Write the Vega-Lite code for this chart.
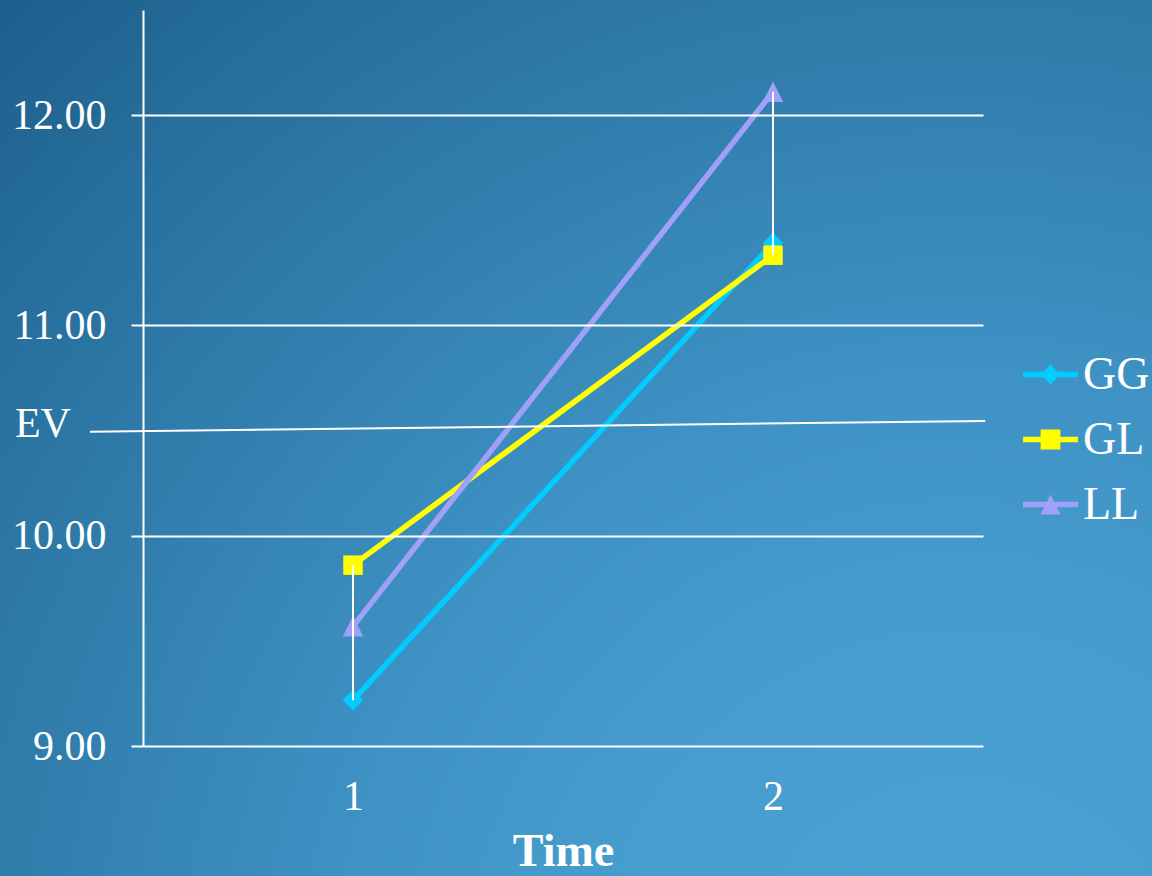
{
  "$schema": "https://vega.github.io/schema/vega-lite/v6.json",
  "width": 840,
  "height": 736,
  "autosize": "none",
  "padding": {"left": 143, "top": 10, "right": 169, "bottom": 130},
  "background": "#2a74a4",
  "config": {
    "view": {"stroke": null},
    "font": "Liberation Serif"
  },
  "datasets": {
    "series": [
      {"time": 1, "group": "GG", "value": 9.217},
      {"time": 2, "group": "GG", "value": 11.392},
      {"time": 1, "group": "GL", "value": 9.86},
      {"time": 2, "group": "GL", "value": 11.334},
      {"time": 1, "group": "LL", "value": 9.569},
      {"time": 2, "group": "LL", "value": 12.111}
    ],
    "ev": [
      {"time": 0.374, "value": 10.494},
      {"time": 2.505, "value": 10.546}
    ]
  },
  "layer": [
    {
      "data": {"values": [{}]},
      "mark": {
        "type": "rect",
        "clip": false,
        "fill": {
          "gradient": "radial",
          "x1": 0.694, "y1": 0.5, "r1": 0,
          "x2": 0.694, "y2": 0.5, "r2": 0.9,
          "stops": [
            {"offset": 0, "color": "#4aa2d4"},
            {"offset": 0.22, "color": "#469ccd"},
            {"offset": 0.35, "color": "#3e92c4"},
            {"offset": 0.65, "color": "#276f9c"},
            {"offset": 0.77, "color": "#1d5f8c"},
            {"offset": 0.95, "color": "#1b5c89"},
            {"offset": 1, "color": "#1a5a87"}
          ]
        }
      },
      "encoding": {
        "x": {"datum": 0.159, "type": "quantitative"},
        "x2": {"datum": 2.905},
        "y": {"datum": 12.55, "type": "quantitative"},
        "y2": {"datum": 3.03}
      }
    },
    {
      "data": {"name": "series"},
      "mark": {"type": "line", "strokeWidth": 5.5},
      "encoding": {
        "x": {
          "field": "time",
          "type": "quantitative",
          "scale": {"domain": [0.5, 2.5], "nice": false, "zero": false},
          "axis": {
            "zindex": 1,
            "values": [1, 2],
            "format": "d",
            "grid": false,
            "domain": false,
            "ticks": false,
            "tickSize": 0,
            "labelColor": "white",
            "labelFontSize": 42,
            "labelPadding": 30,
            "title": "Time",
            "titleFontSize": 46,
            "titleFontWeight": "bold",
            "titleColor": "white",
            "titlePadding": 12
          }
        },
        "y": {
          "field": "value",
          "type": "quantitative",
          "scale": {"domain": [9, 12.5], "nice": false, "zero": false},
          "axis": {
            "zindex": 1,
            "values": [9, 10, 11, 12],
            "format": ".2f",
            "grid": true,
            "gridColor": "white",
            "gridWidth": 2,
            "gridOpacity": 1,
            "domainColor": "white",
            "domainWidth": 2,
            "tickColor": "white",
            "tickWidth": 2,
            "tickSize": 12,
            "labelColor": "white",
            "labelFontSize": 42,
            "labelPadding": 25,
            "title": null
          }
        },
        "color": {
          "field": "group",
          "type": "nominal",
          "scale": {"domain": ["GG", "GL", "LL"], "range": ["#00CCFF", "#FFFF00", "#A0A0FA"]},
          "legend": null
        },
        "detail": {"field": "group"}
      }
    },
    {
      "data": {"name": "series"},
      "mark": {"type": "point", "filled": true, "opacity": 1, "size": 420},
      "encoding": {
        "x": {"field": "time", "type": "quantitative"},
        "y": {"field": "value", "type": "quantitative"},
        "color": {
          "field": "group",
          "type": "nominal",
          "scale": {"domain": ["GG", "GL", "LL"], "range": ["#00CCFF", "#FFFF00", "#A0A0FA"]},
          "legend": null
        },
        "shape": {
          "field": "group",
          "type": "nominal",
          "scale": {"domain": ["GG", "GL", "LL"], "range": ["M-1,0L0,-1L1,0L0,1Z", "M-0.95,-0.95L0.95,-0.95L0.95,0.95L-0.95,0.95Z", "M0,-1L1,1L-1,1Z"]},
          "legend": null
        }
      }
    },
    {
      "data": {"name": "series"},
      "transform": [
        {"aggregate": [{"op": "min", "field": "value", "as": "low"}, {"op": "max", "field": "value", "as": "high"}], "groupby": ["time"]}
      ],
      "mark": {"type": "rule", "color": "white", "strokeWidth": 2},
      "encoding": {
        "x": {"field": "time", "type": "quantitative"},
        "y": {"field": "low", "type": "quantitative"},
        "y2": {"field": "high"}
      }
    },
    {
      "data": {"name": "ev"},
      "mark": {"type": "line", "color": "white", "strokeWidth": 2, "clip": false},
      "encoding": {
        "x": {"field": "time", "type": "quantitative"},
        "y": {"field": "value", "type": "quantitative"}
      }
    },
    {
      "data": {"values": [{}]},
      "mark": {"type": "text", "text": "EV", "color": "white", "fontSize": 42, "align": "left", "baseline": "middle", "clip": false},
      "encoding": {
        "x": {"datum": 0.195, "type": "quantitative"},
        "y": {"datum": 10.53, "type": "quantitative"}
      }
    },
    {
      "data": {"name": "series"},
      "transform": [{"filter": "false"}],
      "mark": {"type": "point", "filled": true, "opacity": 1},
      "encoding": {
        "x": {"field": "time", "type": "quantitative"},
        "y": {"field": "value", "type": "quantitative"},
        "color": {
          "field": "group",
          "type": "nominal",
          "scale": {"domain": ["GG", "GL", "LL"], "range": ["#00CCFF", "#FFFF00", "#A0A0FA"]},
          "legend": {
            "orient": "none",
            "legendX": 880,
            "legendY": 337,
            "title": null,
            "padding": 0,
            "symbolSize": 3025,
            "symbolStrokeWidth": 0,
            "symbolOpacity": 1,
            "labelFontSize": 46,
            "labelColor": "white",
            "labelFont": "Liberation Serif",
            "labelOffset": 5,
            "rowPadding": 14
          }
        },
        "shape": {
          "field": "group",
          "type": "nominal",
          "scale": {
            "domain": ["GG", "GL", "LL"],
            "range": [
              "M-1,-0.1L-0.26,-0.1L0,-0.36L0.26,-0.1L1,-0.1L1,0.1L0.26,0.1L0,0.36L-0.26,0.1L-1,0.1Z",
              "M-1,-0.1L-0.36,-0.1L-0.36,-0.36L0.36,-0.36L0.36,-0.1L1,-0.1L1,0.1L0.36,0.1L0.36,0.36L-0.36,0.36L-0.36,0.1L-1,0.1Z",
              "M-1,-0.1L-0.13,-0.1L0,-0.36L0.13,-0.1L1,-0.1L1,0.1L0.23,0.1L0.36,0.36L-0.36,0.36L-0.23,0.1L-1,0.1Z"
            ]
          }
        }
      }
    }
  ],
  "resolve": {"scale": {"color": "independent", "shape": "independent"}}
}
